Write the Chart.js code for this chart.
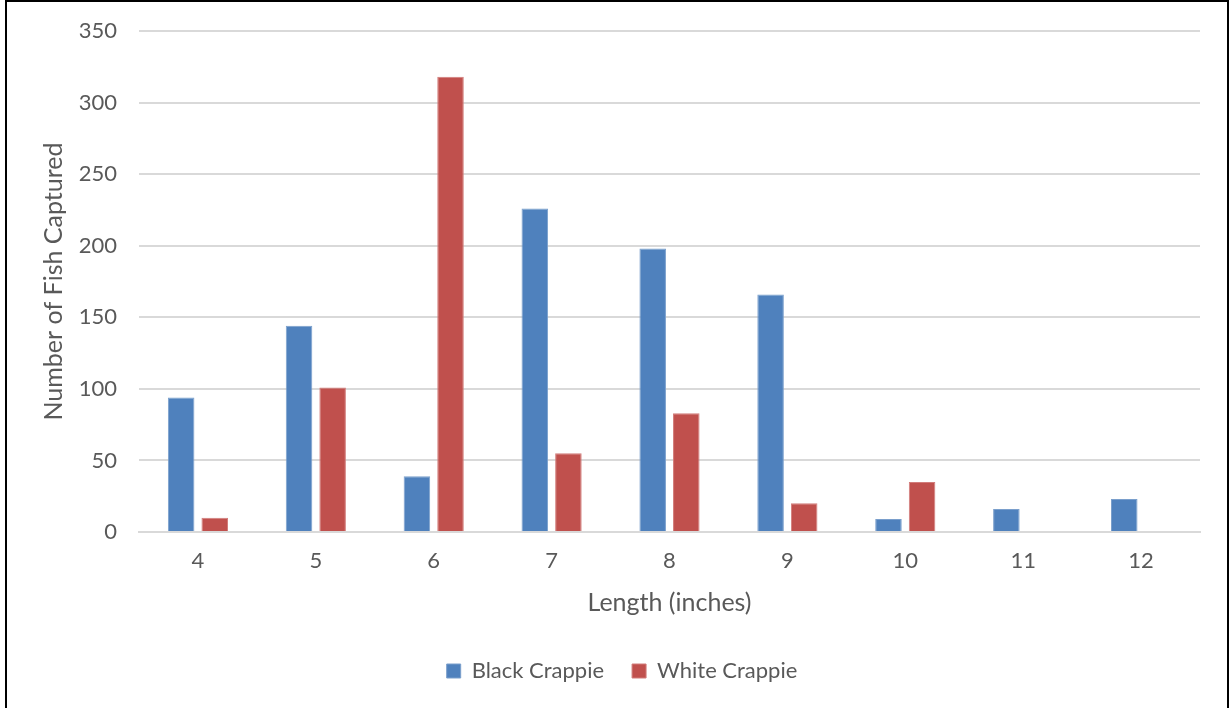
<!DOCTYPE html>
<html>
<head>
<meta charset="utf-8">
<script src="https://cdn.jsdelivr.net/npm/chart.js@4"></script>
<style>
  html, body { margin: 0; padding: 0; background: #fff; overflow: hidden; }
  #frame { position: absolute; left: 5px; top: 0px; width: 1220px; height: 730px; border: 2px solid #000; }
  #wrap { position: absolute; left: 0; top: 0; width: 1231px; height: 708px; }
</style>
</head>
<body>
<div id="frame"></div>
<div id="wrap"><canvas id="chart"></canvas></div>
<script>
const lengths = ['4', '5', '6', '7', '8', '9', '10', '11', '12'];
const blackCrappie = [94, 144, 39, 226, 198, 166, 9, 16, 23];
const whiteCrappie = [10, 101, 318, 55, 83, 20, 35, 0, 0];

const textColor = '#595959';
const tickFont = { family: 'Lato, "Open Sans", sans-serif', size: 22 };
const titleFont = { family: 'Lato, "Open Sans", sans-serif', size: 25 };

const chart = new Chart(document.getElementById('chart'), {
    type: 'bar',
    data: {
        labels: lengths,
        datasets: [{
            label: 'Black Crappie',
            data: blackCrappie,
            backgroundColor: '#4F81BD',
            borderColor: '#7A9FCC',
            borderWidth: 1,
            categoryPercentage: 0.57,
            barPercentage: 0.79
        }, {
            label: 'White Crappie',
            data: whiteCrappie,
            backgroundColor: '#C0504D',
            borderColor: '#D27C7A',
            borderWidth: 1,
            categoryPercentage: 0.57,
            barPercentage: 0.79
        }]
    },
    options: {
        animation: false,
        responsive: true,
        maintainAspectRatio: false,
        layout: { padding: { left: 44, right: 31, top: 31, bottom: 16 } },
        plugins: {
            tooltip: { enabled: false },
            legend: {
                position: 'bottom',
                labels: {
                    color: textColor,
                    font: tickFont,
                    boxWidth: 14,
                    boxHeight: 14,
                    padding: 28
                }
            }
        },
        scales: {
            x: {
                grid: { display: false, drawTicks: false },
                border: { color: '#D9D9D9', width: 2 },
                ticks: { color: textColor, font: tickFont, padding: 16 },
                title: { display: true, text: 'Length (inches)', color: textColor, font: titleFont, padding: { top: 8, bottom: 14 } },
                afterFit: (scale) => { scale.height = 100; }
            },
            y: {
                min: 0,
                max: 350,
                grid: { color: '#D9D9D9', lineWidth: 2, drawTicks: false },
                border: { display: false },
                ticks: { stepSize: 50, color: textColor, font: tickFont, padding: 22 },
                title: { display: true, text: 'Number of Fish Captured', color: textColor, font: titleFont, padding: { top: -5, bottom: -5 } },
                afterFit: (scale) => {
                    scale.width = 95;
                    scale.paddingTop = 0;
                    scale.paddingBottom = 0;
                }
            }
        }
    }
});
</script>
</body>
</html>
